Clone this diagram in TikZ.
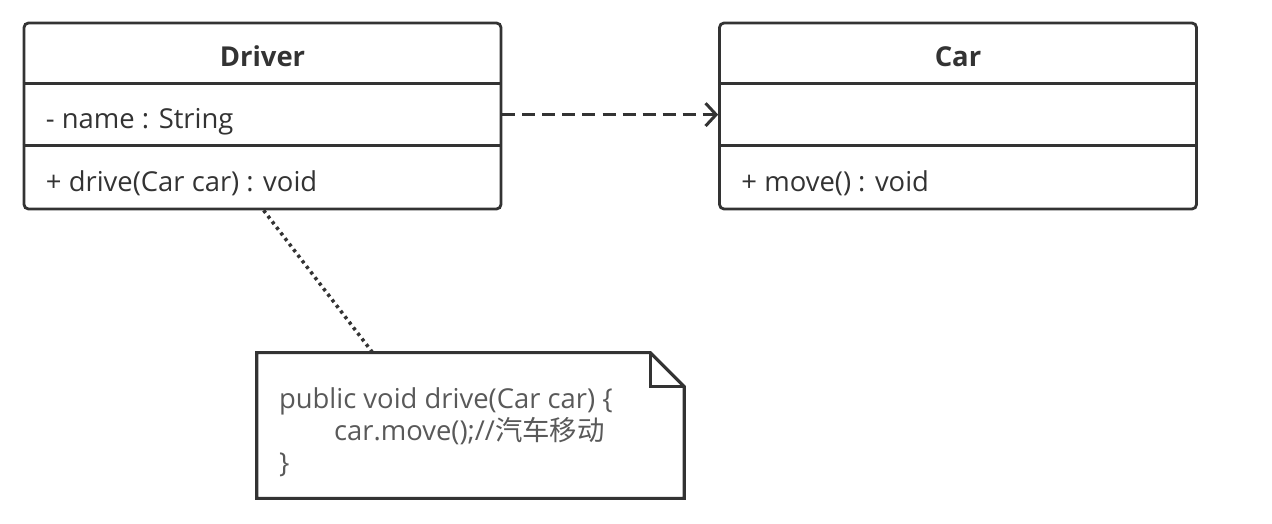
\documentclass[tikz,border=0pt]{standalone}
\usepackage{fontspec}
\setmainfont{Open Sans}
\newfontfamily\cjk{Noto Sans CJK SC}
\usepackage{xcolor}
\usepackage{tikz}
\usetikzlibrary{arrows.meta,positioning,calc}
\definecolor{umlline}{HTML}{333333}
\definecolor{umltext}{HTML}{333333}
\definecolor{notegray}{HTML}{595959}
\tikzset{
  classbox/.style={draw=umlline,line width=1.6pt,rounded corners=2.5pt,minimum width=9.54cm,minimum height=3.72cm,inner sep=0pt},
  classname/.style={font=\bfseries\fontsize{15.6}{18}\selectfont,text=umltext,inner sep=0pt},
  member/.style={font=\fontsize{15.6}{18}\selectfont,text=umltext,anchor=west,inner sep=0pt},
  sepline/.style={draw=umlline,line width=1.6pt},
  dependency/.style={->,draw=umlline,line width=1.7pt,dash pattern=on 7.4pt off 4pt},
  notebox/.style={minimum width=8.54cm,minimum height=2.9cm,inner sep=0pt},
  noteline/.style={draw=umlline,line width=2pt,dash pattern=on 1.8pt off 2.2pt},
}
\begin{document}
\begin{tikzpicture}[x=0.02cm,y=-0.02cm,>={Straight Barb[length=6pt,width=13pt]}]
  \useasboundingbox (0,0) rectangle (1272,524);
  % classes
  \node[classbox] (driver) at (262.5,116) {};
  \node[classbox] (car) at (958,116) {};
  \foreach \c in {driver,car}{
    \draw[sepline] ($(\c.north west)+(0,62)$) -- ($(\c.north east)+(0,62)$);
    \draw[sepline] ($(\c.north west)+(0,124)$) -- ($(\c.north east)+(0,124)$);
  }
  \node[classname] (drivertitle) at ($(driver.north)+(0,35)$) {Driver};
  \node[member] (drivername) at ($(driver.north west)+(23,100)$) {- name : String};
  \node[member] (driverdrive) at ($(driver.north west)+(23,162)$) {+ drive(Car car) : void};
  \node[classname] (cartitle) at ($(car.north)+(0,35)$) {Car};
  \node[member] (carmove) at ($(car.north west)+(23,162)$) {+ move() : void};
  % dependency
  \coordinate (dep) at ($(driver.north east)+(0,93)$);
  \draw[dependency] (driver.east |- dep) -- (car.west |- dep);
  % note
  \node[notebox] (note) at (470.5,425.5) {};
  \draw[umlline,line width=1.8pt] (note.north west) -- ($(note.north east)+(-34,0)$)
    -- ($(note.north east)+(0,34)$) -- (note.south east) -- (note.south west) -- cycle;
  \draw[umlline,line width=1.8pt] ($(note.north east)+(-34,0)$) -- ($(note.north east)+(-34,34)$)
    -- ($(note.north east)+(0,34)$);
  \node[anchor=north west,inner sep=0pt,align=left,text=notegray,font=\fontsize{15.6}{18}\selectfont] (notecode)
    at ($(note.north west)+(22,35)$) {public void drive(Car car) \{\\
    \hspace*{1.1cm}car.move();//{\cjk 汽车移动}\\
    \}};
  \coordinate (drivefoot) at ($(driver.south west)+(241,0)$);
  \coordinate (notetop) at ($(note.north west)+(116,0)$);
  \draw[noteline] (drivefoot) -- (notetop);
\end{tikzpicture}
\end{document}
